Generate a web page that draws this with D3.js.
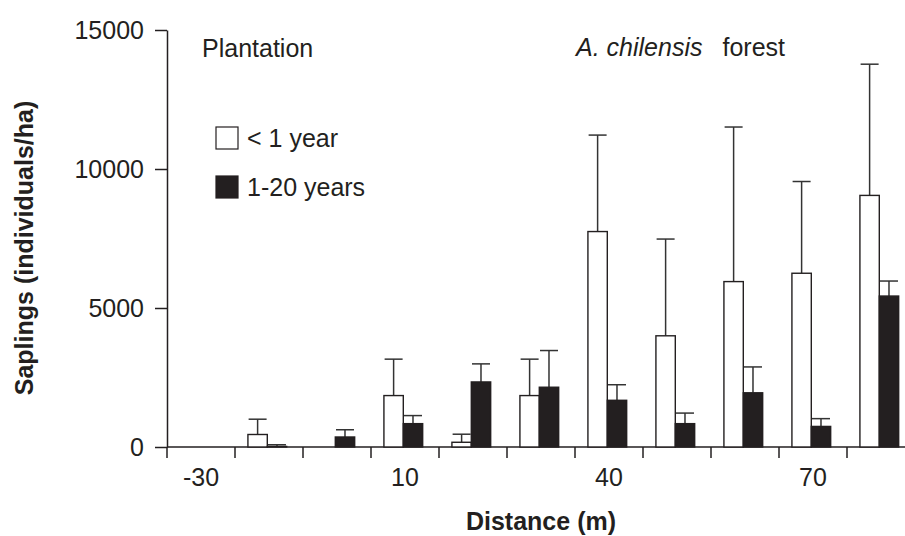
<!DOCTYPE html>
<html>
<head>
    <title>Saplings by distance</title>
    <script src="https://d3js.org/d3.v7.min.js"></script>
    <style>
        html, body {
            margin: 0;
            background: #fff;
            overflow: hidden;
        }
        text {
            font-family: "Liberation Sans", Arial, sans-serif;
            fill: #231f20;
        }
    </style>
</head>
<body>
    <div id="chart"></div>

    <script>
        // Distance classes (m) and which of them get a label
        const distances = [-30, -20, -10, 10, 20, 30, 40, 50, 60, 70, 80];
        const labelled = [-30, 10, 40, 70];

        // Saplings < 1 year: mean and error (individuals/ha)
        const youngMean = [0, 450, 0, 1850, 170, 1850, 7750, 4000, 5950, 6250, 9050];
        const youngErr  = [0, 550, 0, 1310, 290, 1310, 3470, 3480, 5560, 3300, 4720];

        // Saplings 1-20 years
        const oldMean = [0, 20, 360, 840, 2340, 2150, 1680, 840, 1950, 740, 5430];
        const oldErr  = [0, 60, 260, 290, 650, 1320, 560, 380, 930, 280, 540];

        const yTicks = [0, 5000, 10000, 15000];

        const W = 905, H = 536;
        const ink = "#231f20";
        const fs = 25;

        const svg = d3.select("#chart")
            .append("svg")
            .attr("width", W)
            .attr("height", H);

        // Scales
        const x = d3.scaleBand()
            .domain(distances)
            .range([167, 915])
            .padding(0);
        const bw = x.bandwidth();

        const y = d3.scaleLinear()
            .domain([0, 15000])
            .range([447, 30]);

        // position of the two bars inside a distance class
        const sub = d3.scaleBand()
            .domain(["young", "old"])
            .range([bw * 0.19, bw * 0.76])
            .padding(0);

        const rows = distances.map((d, i) => ({
            dist: d,
            young: youngMean[i], youngE: youngErr[i],
            old: oldMean[i], oldE: oldErr[i]
        }));

        // Y axis
        svg.append("g")
            .attr("transform", `translate(${x.range()[0]},0)`)
            .call(d3.axisLeft(y)
                .tickValues(yTicks)
                .tickFormat(d3.format("d"))
                .tickSize(12)
                .tickSizeOuter(0)
                .tickPadding(11))
            .call(g => g.selectAll("path, line").attr("stroke", ink).attr("stroke-width", 1.5))
            .call(g => g.selectAll("text")
                .attr("font-size", fs)
                .attr("font-family", "Liberation Sans, Arial, sans-serif")
                .attr("fill", ink));

        // X axis: baseline, ticks at class boundaries, labels at centres
        const xa = svg.append("g");
        xa.append("line")
            .attr("x1", x.range()[0]).attr("x2", x.range()[1])
            .attr("y1", y(0)).attr("y2", y(0))
            .attr("stroke", ink).attr("stroke-width", 1.5);
        xa.selectAll("line.tk")
            .data(distances)
            .join("line")
            .attr("class", "tk")
            .attr("x1", d => x(d)).attr("x2", d => x(d))
            .attr("y1", y(0)).attr("y2", y(0) + 11)
            .attr("stroke", ink).attr("stroke-width", 1.5);
        xa.selectAll("text")
            .data(labelled)
            .join("text")
            .attr("x", d => x(d) + bw / 2)
            .attr("y", y(0) + 39)
            .attr("text-anchor", "middle")
            .attr("font-size", fs)
            .text(d => d);

        // Bars
        const groups = svg.selectAll("g.cls")
            .data(rows)
            .join("g")
            .attr("class", "cls")
            .attr("transform", d => `translate(${x(d.dist)},0)`);

        const series = [
            {key: "young", err: "youngE", fill: "#fff"},
            {key: "old", err: "oldE", fill: ink}
        ];

        series.forEach(s => {
            const has = groups.filter(d => d[s.key] > 0);

            // error bar (upper only)
            has.append("line")
                .attr("x1", sub(s.key) + sub.bandwidth() / 2)
                .attr("x2", sub(s.key) + sub.bandwidth() / 2)
                .attr("y1", d => y(d[s.key]))
                .attr("y2", d => y(d[s.key] + d[s.err]))
                .attr("stroke", "#333").attr("stroke-width", 1.5);
            has.append("line")
                .attr("x1", sub(s.key) + sub.bandwidth() / 2 - 9)
                .attr("x2", sub(s.key) + sub.bandwidth() / 2 + 9)
                .attr("y1", d => y(d[s.key] + d[s.err]))
                .attr("y2", d => y(d[s.key] + d[s.err]))
                .attr("stroke", "#333").attr("stroke-width", 1.5);

            has.append("rect")
                .attr("x", sub(s.key))
                .attr("width", sub.bandwidth())
                .attr("y", d => y(d[s.key]))
                .attr("height", d => y(0) - y(d[s.key]))
                .attr("fill", s.fill)
                .attr("stroke", ink)
                .attr("stroke-width", 1.4);
        });

        // Region labels
        svg.append("text")
            .attr("x", 202).attr("y", 57)
            .attr("font-size", fs)
            .text("Plantation");
        const forest = svg.append("text")
            .attr("x", 576).attr("y", 56)
            .attr("font-size", fs);
        forest.append("tspan").attr("font-style", "italic").text("A. chilensis");
        forest.append("tspan").attr("dx", 20).text("forest");

        // Legend
        const legendItems = [
            {label: "< 1 year", fill: "#fff"},
            {label: "1-20 years", fill: ink}
        ];
        const lg = svg.selectAll("g.lg")
            .data(legendItems)
            .join("g")
            .attr("class", "lg")
            .attr("transform", (d, i) => `translate(216,${127 + i * 49})`);
        lg.append("rect")
            .attr("width", 22).attr("height", 22)
            .attr("fill", d => d.fill)
            .attr("stroke", ink).attr("stroke-width", 1.2);
        lg.append("text")
            .attr("x", 31).attr("y", 20)
            .attr("font-size", fs)
            .text(d => d.label);

        // Axis titles
        svg.append("text")
            .attr("transform", "translate(33,248) rotate(-90)")
            .attr("text-anchor", "middle")
            .attr("font-size", fs)
            .attr("font-weight", "bold")
            .text("Saplings (individuals/ha)");
        svg.append("text")
            .attr("x", 541).attr("y", 530)
            .attr("text-anchor", "middle")
            .attr("font-size", fs)
            .attr("font-weight", "bold")
            .text("Distance (m)");
    </script>
</body>
</html>
